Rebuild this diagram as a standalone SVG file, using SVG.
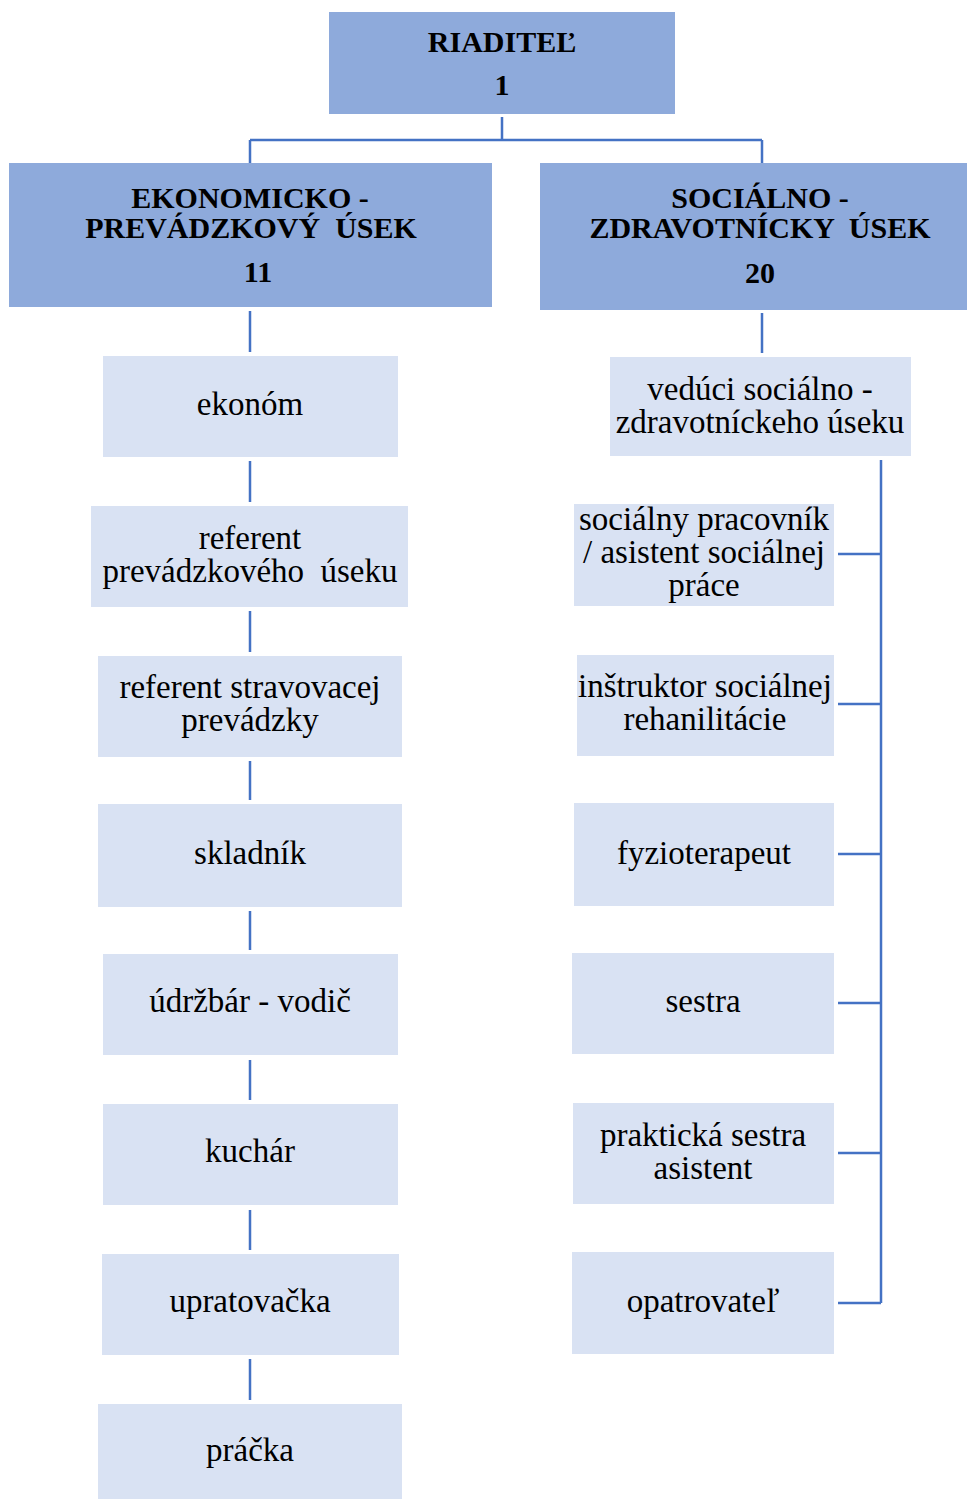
<svg xmlns="http://www.w3.org/2000/svg" width="967" height="1499" viewBox="0 0 967 1499">
<style>
.hd{fill:#8EAADB;}
.bx{fill:#D9E2F3;}
.th{font-family:"Liberation Serif","Times New Roman",serif;font-weight:bold;font-size:30px;fill:#000;text-anchor:middle;}
.tb{font-family:"Liberation Serif","Times New Roman",serif;font-size:33px;fill:#000;text-anchor:middle;}
.ln{stroke:#4472C4;stroke-width:2.5;fill:none;}
</style>
<rect width="967" height="1499" fill="#fff"/>
<g id="connectors">
<path class="ln" d="M502 117V140M250 140H762M250 140V163M762 140V163"/>
<path class="ln" d="M250 311V352M250 461V502M250 611V652M250 761V800M250 911V950M250 1060V1100M250 1210V1250M250 1359V1400"/>
<path class="ln" d="M762 313V353"/>
<path class="ln" stroke-width="3" d="M881 460V1303M838 554H881M838 704H881M838 854H881M838 1003H881M838 1153H881M838 1303H881"/>
</g>
<g id="riaditel"><rect class="hd" x="329" y="12" width="346" height="102"/>
<text class="th" x="502" y="52">RIADITEĽ</text><text class="th" x="502" y="95">1</text></g>
<g id="ekonomicko"><rect class="hd" x="9" y="163" width="483" height="144"/>
<text class="th" x="250" y="208">EKONOMICKO -</text><text class="th" x="251" y="238" xml:space="preserve">PREVÁDZKOVÝ  ÚSEK</text><text class="th" x="258" y="282">11</text></g>
<g id="socialno"><rect class="hd" x="540" y="163" width="427" height="147"/>
<text class="th" x="760" y="208">SOCIÁLNO -</text><text class="th" x="760" y="238" xml:space="preserve">ZDRAVOTNÍCKY  ÚSEK</text><text class="th" x="760" y="283">20</text></g>
<g id="ekonom"><rect class="bx" x="103" y="356" width="295" height="101"/><text class="tb" x="250" y="415">ekonóm</text></g>
<g id="referent-prev"><rect class="bx" x="91" y="506" width="317" height="101"/><text class="tb" x="250" y="549">referent</text><text class="tb" x="250" y="582" xml:space="preserve">prevádzkového  úseku</text></g>
<g id="referent-strav"><rect class="bx" x="98" y="656" width="304" height="101"/><text class="tb" x="250" y="698">referent stravovacej</text><text class="tb" x="250" y="731">prevádzky</text></g>
<g id="skladnik"><rect class="bx" x="98" y="804" width="304" height="103"/><text class="tb" x="250" y="864">skladník</text></g>
<g id="udrzbar"><rect class="bx" x="103" y="954" width="295" height="101"/><text class="tb" x="250" y="1012">údržbár - vodič</text></g>
<g id="kuchar"><rect class="bx" x="103" y="1104" width="295" height="101"/><text class="tb" x="250" y="1162">kuchár</text></g>
<g id="upratovacka"><rect class="bx" x="102" y="1254" width="297" height="101"/><text class="tb" x="250" y="1312">upratovačka</text></g>
<g id="pracka"><rect class="bx" x="98" y="1404" width="304" height="95"/><text class="tb" x="250" y="1461">práčka</text></g>
<g id="veduci"><rect class="bx" x="610" y="357" width="301" height="99"/><text class="tb" x="760" y="400">vedúci sociálno -</text><text class="tb" x="760" y="433">zdravotníckeho úseku</text></g>
<g id="socialny"><rect class="bx" x="574" y="504" width="260" height="102"/><text class="tb" x="704" y="530">sociálny pracovník</text><text class="tb" x="704" y="563">/ asistent sociálnej</text><text class="tb" x="704" y="596">práce</text></g>
<g id="instruktor"><rect class="bx" x="577" y="655" width="257" height="101"/><text class="tb" x="705" y="697">inštruktor sociálnej</text><text class="tb" x="705" y="730">rehanilitácie</text></g>
<g id="fyzio"><rect class="bx" x="574" y="803" width="260" height="103"/><text class="tb" x="704" y="864">fyzioterapeut</text></g>
<g id="sestra"><rect class="bx" x="572" y="953" width="262" height="101"/><text class="tb" x="703" y="1012">sestra</text></g>
<g id="prakticka"><rect class="bx" x="573" y="1103" width="261" height="101"/><text class="tb" x="703" y="1146">praktická sestra</text><text class="tb" x="703" y="1179">asistent</text></g>
<g id="opatrovatel"><rect class="bx" x="572" y="1252" width="262" height="102"/><text class="tb" x="703" y="1312">opatrovateľ</text></g>
</svg>
